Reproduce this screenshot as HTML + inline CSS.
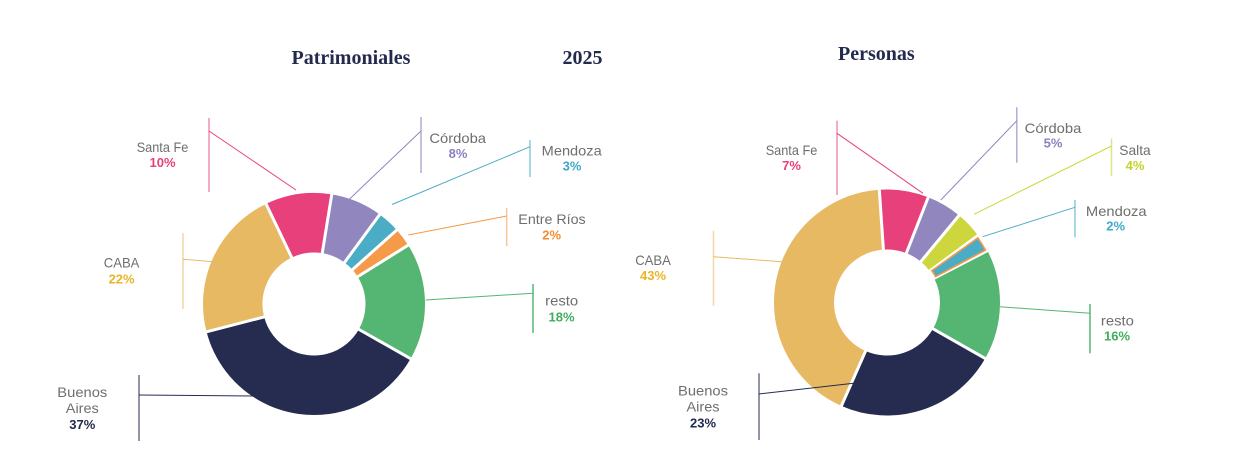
<!DOCTYPE html>
<html>
<head>
<meta charset="utf-8">
<style>
  html,body{margin:0;padding:0;background:#ffffff;}
  body{width:1240px;height:466px;overflow:hidden;}
  svg{display:block;}
  .t{font-family:"Liberation Serif",serif;font-weight:bold;font-size:20px;fill:#222a4e;}
  .lb{font-family:"Liberation Sans",sans-serif;font-size:14px;fill:#6e6e6e;}
  .pc{font-family:"Liberation Sans",sans-serif;font-size:13px;font-weight:bold;}
</style>
</head>
<body>
<svg width="1240" height="466" viewBox="0 0 1240 466" xmlns="http://www.w3.org/2000/svg">
  <!-- Titles -->
  <text class="t" x="291.5" y="64">Patrimoniales</text>
  <text class="t" x="562.5" y="64">2025</text>
  <text class="t" x="838" y="60">Personas</text>

  <!-- ============ LEFT DONUT ============ -->
  <g transform="translate(314,304)" fill="none" stroke-width="59.5">
    <circle r="81.25" stroke="#e8407a" stroke-dasharray="49.35 600" transform="rotate(-115.6)"/>
    <circle r="81.25" stroke="#9286be" stroke-dasharray="38.43 600" transform="rotate(-80.8)"/>
    <circle r="81.25" stroke="#4bacc6" stroke-dasharray="16.87 600" transform="rotate(-53.7)"/>
    <circle r="81.25" stroke="#f59a48" stroke-dasharray="13.90 600" transform="rotate(-41.8)"/>
    <circle r="81.25" stroke="#55b572" stroke-dasharray="87.21 600" transform="rotate(-32)"/>
    <circle r="81.25" stroke="#252c50" stroke-dasharray="192.86 600" transform="rotate(29.5)"/>
    <circle r="81.25" stroke="#e7b962" stroke-dasharray="111.88 600" transform="rotate(165.5)"/>
  </g>
  <g transform="translate(314,304)" stroke="#ffffff" stroke-width="3">
    <line x1="0" y1="-49" x2="0" y2="-114" transform="rotate(-25.6)"/>
    <line x1="0" y1="-49" x2="0" y2="-114" transform="rotate(9.2)"/>
    <line x1="0" y1="-49" x2="0" y2="-114" transform="rotate(36.3)"/>
    <line x1="0" y1="-49" x2="0" y2="-114" transform="rotate(48.2)"/>
    <line x1="0" y1="-49" x2="0" y2="-114" transform="rotate(58)"/>
    <line x1="0" y1="-49" x2="0" y2="-114" transform="rotate(119.5)"/>
    <line x1="0" y1="-49" x2="0" y2="-114" transform="rotate(255.5)"/>
  </g>

  <!-- Left leader lines -->
  <g fill="none">
    <line x1="209" y1="118" x2="209" y2="192" stroke="#f08fb2" stroke-width="1.5"/>
    <line x1="209" y1="131" x2="296" y2="190" stroke="#e8407a" stroke-width="1"/>
    <line x1="421" y1="117" x2="421" y2="173" stroke="#b3aad4" stroke-width="1.5"/>
    <line x1="421" y1="131" x2="348.5" y2="200" stroke="#9286be" stroke-width="1"/>
    <line x1="530" y1="140" x2="530" y2="177" stroke="#8ccbdc" stroke-width="1.5"/>
    <line x1="530" y1="146.7" x2="392" y2="204.5" stroke="#4bacc6" stroke-width="1"/>
    <line x1="506.7" y1="208" x2="506.7" y2="246" stroke="#f9c69a" stroke-width="1.5"/>
    <line x1="506.7" y1="216" x2="408.3" y2="235" stroke="#f59a48" stroke-width="1"/>
    <line x1="533" y1="284" x2="533" y2="333" stroke="#55b572" stroke-width="1.5"/>
    <line x1="533" y1="293.3" x2="425.7" y2="300" stroke="#55b572" stroke-width="1"/>
    <line x1="183" y1="233" x2="183" y2="309" stroke="#f0d7a4" stroke-width="1.5"/>
    <line x1="183" y1="259.3" x2="214" y2="261.7" stroke="#e7b962" stroke-width="1"/>
    <line x1="139" y1="375" x2="139" y2="441" stroke="#6b7088" stroke-width="1.5"/>
    <line x1="139" y1="395" x2="253" y2="396" stroke="#252c50" stroke-width="1"/>
  </g>

  <!-- Left labels -->
  <g text-anchor="middle">
    <text class="lb" x="162.5" y="152" textLength="51.6" lengthAdjust="spacingAndGlyphs">Santa Fe</text>
    <text class="pc" x="162.5" y="167" fill="#e8407a">10%</text>

    <text class="lb" x="457.7" y="143" textLength="56.6" lengthAdjust="spacingAndGlyphs">Córdoba</text>
    <text class="pc" x="458" y="158" fill="#8d80bf">8%</text>

    <text class="lb" x="571.7" y="155.5" textLength="60" lengthAdjust="spacingAndGlyphs">Mendoza</text>
    <text class="pc" x="572" y="170.5" fill="#3ea9c7">3%</text>

    <text class="lb" x="552" y="224" textLength="67.4" lengthAdjust="spacingAndGlyphs">Entre Ríos</text>
    <text class="pc" x="551.7" y="239.3" fill="#f28c30">2%</text>

    <text class="lb" x="561.7" y="305.7" textLength="33" lengthAdjust="spacingAndGlyphs">resto</text>
    <text class="pc" x="561.5" y="321.5" fill="#3fae5f">18%</text>

    <text class="lb" x="121.6" y="267.7" textLength="35.6" lengthAdjust="spacingAndGlyphs">CABA</text>
    <text class="pc" x="121.6" y="283.3" fill="#e8b526">22%</text>

    <text class="lb" x="82.3" y="397" textLength="50" lengthAdjust="spacingAndGlyphs">Buenos</text>
    <text class="lb" x="82.3" y="413" textLength="33" lengthAdjust="spacingAndGlyphs">Aires</text>
    <text class="pc" x="82.3" y="429" fill="#222a4e">37%</text>
  </g>

  <!-- ============ RIGHT DONUT ============ -->
  <g transform="translate(887,302.5)" fill="none" stroke-width="60">
    <circle r="83" stroke="#e8407a" stroke-dasharray="36.65 600" transform="rotate(-93.9)"/>
    <circle r="83" stroke="#9286be" stroke-dasharray="26.37 600" transform="rotate(-68.6)"/>
    <circle r="83" stroke="#cdd73d" stroke-dasharray="20.28 600" transform="rotate(-50.4)"/>
    <circle r="83" stroke="#55b572" stroke-dasharray="82.57 600" transform="rotate(-27.3)"/>
    <circle r="83" stroke="#252c50" stroke-dasharray="121.83 600" transform="rotate(29.7)"/>
    <circle r="83" stroke="#e7b962" stroke-dasharray="220.62 600" transform="rotate(113.8)"/>
  </g>
  <g transform="translate(887,302.5)" stroke="#ffffff" stroke-width="3">
    <line x1="0" y1="-51" x2="0" y2="-116" transform="rotate(-3.9)"/>
    <line x1="0" y1="-51" x2="0" y2="-116" transform="rotate(21.4)"/>
    <line x1="0" y1="-51" x2="0" y2="-116" transform="rotate(39.6)"/>
    <line x1="0" y1="-51" x2="0" y2="-116" transform="rotate(53.6)"/>
    <line x1="0" y1="-51" x2="0" y2="-116" transform="rotate(62.7)"/>
    <line x1="0" y1="-51" x2="0" y2="-116" transform="rotate(119.7)"/>
    <line x1="0" y1="-51" x2="0" y2="-116" transform="rotate(203.8)"/>
  </g>
  <path d="M977.88,237.91 A111.5,111.5 0 0 1 985.44,250.15 L935.56,276.68 A55,55 0 0 0 931.83,270.64 Z" fill="#4bacc6" stroke="#f59a48" stroke-width="1.6"/>

  <!-- Right leader lines -->
  <g fill="none">
    <line x1="837" y1="120.7" x2="837" y2="195" stroke="#f08fb2" stroke-width="1.5"/>
    <line x1="837" y1="133.3" x2="923" y2="193.3" stroke="#e8407a" stroke-width="1"/>
    <line x1="1016.8" y1="107.3" x2="1016.8" y2="162.7" stroke="#b3aad4" stroke-width="1.5"/>
    <line x1="1016.8" y1="120.7" x2="940.8" y2="200" stroke="#9286be" stroke-width="1"/>
    <line x1="1111.5" y1="138.5" x2="1111.5" y2="176" stroke="#dfe58a" stroke-width="1.5"/>
    <line x1="1111.5" y1="146" x2="974" y2="214.3" stroke="#cdd73d" stroke-width="1"/>
    <line x1="1075" y1="200" x2="1075" y2="237.3" stroke="#8ccbdc" stroke-width="1.5"/>
    <line x1="1075" y1="207.3" x2="982.7" y2="236.7" stroke="#4bacc6" stroke-width="1"/>
    <line x1="1090" y1="304" x2="1090" y2="353.3" stroke="#55b572" stroke-width="1.5"/>
    <line x1="1090" y1="313.3" x2="1000" y2="306.7" stroke="#55b572" stroke-width="1"/>
    <line x1="713.5" y1="230.7" x2="713.5" y2="305.7" stroke="#f0d7a4" stroke-width="1.5"/>
    <line x1="713.5" y1="256.7" x2="781.6" y2="261.7" stroke="#e7b962" stroke-width="1"/>
    <line x1="759" y1="373.3" x2="759" y2="440" stroke="#6b7088" stroke-width="1.5"/>
    <line x1="759" y1="394" x2="853.7" y2="383.3" stroke="#252c50" stroke-width="1"/>
  </g>

  <!-- Right labels -->
  <g text-anchor="middle">
    <text class="lb" x="791.5" y="155" textLength="51.6" lengthAdjust="spacingAndGlyphs">Santa Fe</text>
    <text class="pc" x="791.5" y="170" fill="#e8407a">7%</text>

    <text class="lb" x="1053" y="133" textLength="56.6" lengthAdjust="spacingAndGlyphs">Córdoba</text>
    <text class="pc" x="1053" y="147.5" fill="#8d80bf">5%</text>

    <text class="lb" x="1135" y="155" textLength="31.4" lengthAdjust="spacingAndGlyphs">Salta</text>
    <text class="pc" x="1135" y="170" fill="#c5d22b">4%</text>

    <text class="lb" x="1116.3" y="216" textLength="60.7" lengthAdjust="spacingAndGlyphs">Mendoza</text>
    <text class="pc" x="1115.7" y="230.7" fill="#3ea9c7">2%</text>

    <text class="lb" x="1117.4" y="325.7" textLength="33" lengthAdjust="spacingAndGlyphs">resto</text>
    <text class="pc" x="1117" y="340.7" fill="#3fae5f">16%</text>

    <text class="lb" x="653" y="265" textLength="35.6" lengthAdjust="spacingAndGlyphs">CABA</text>
    <text class="pc" x="653" y="280" fill="#e8b526">43%</text>

    <text class="lb" x="703" y="395.7" textLength="50" lengthAdjust="spacingAndGlyphs">Buenos</text>
    <text class="lb" x="703" y="411.5" textLength="33" lengthAdjust="spacingAndGlyphs">Aires</text>
    <text class="pc" x="703" y="427.3" fill="#222a4e">23%</text>
  </g>
</svg>
</body>
</html>
